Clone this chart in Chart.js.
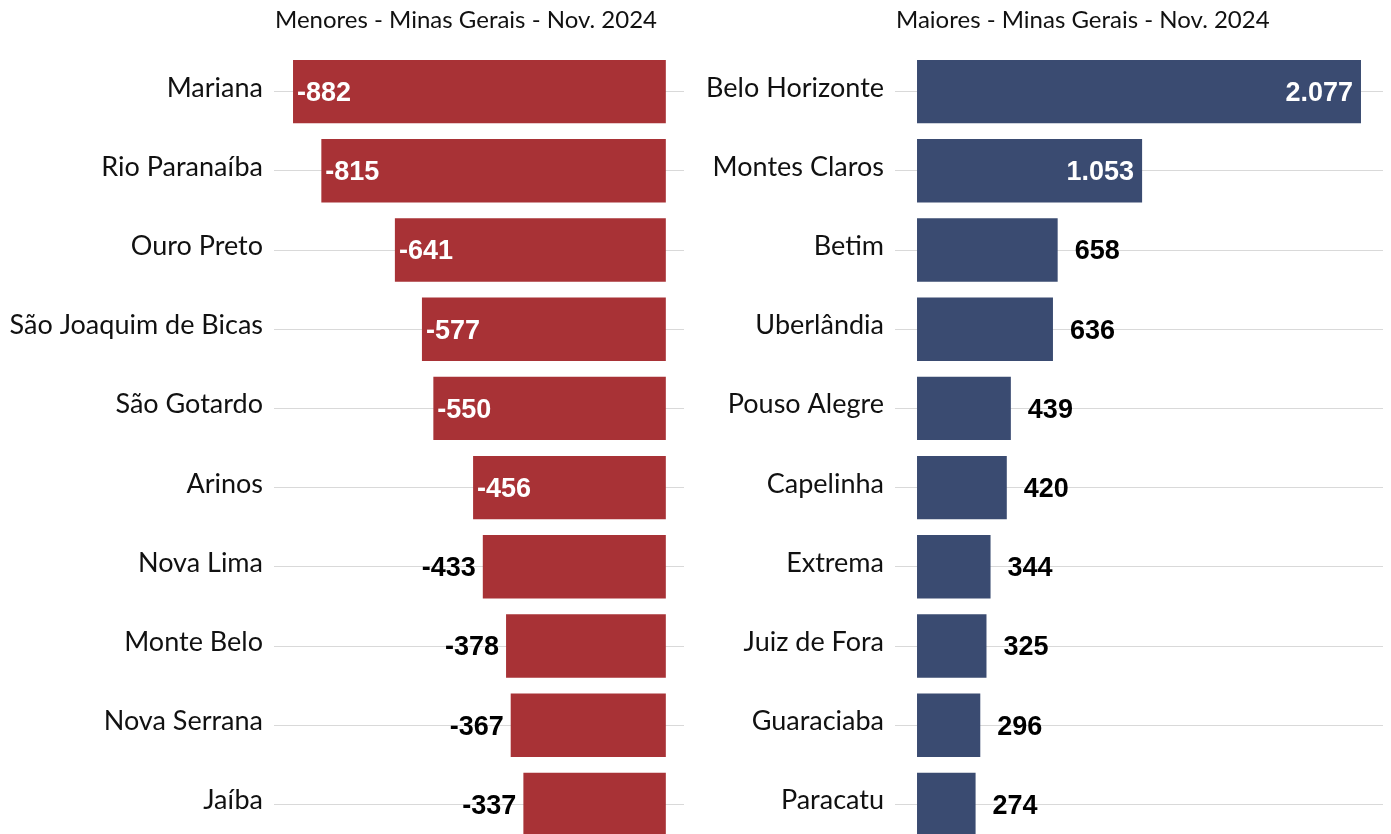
<!DOCTYPE html>
<html>
<head>
<meta charset="utf-8">
<script src="https://cdn.jsdelivr.net/npm/chart.js@4.4.1/dist/chart.umd.min.js"></script>
<style>
  html, body { margin: 0; padding: 0; background: #ffffff; overflow: hidden; width: 1391px; height: 834px; }
  #wrap { position: relative; width: 1391px; height: 834px; overflow: hidden; }
  #left { position: absolute; left: 0; top: 0; width: 695px; height: 850px; }
  #right { position: absolute; left: 695px; top: 0; width: 696px; height: 850px; }
</style>
</head>
<body>
<div id="wrap">
  <div id="left"><canvas id="c1"></canvas></div>
  <div id="right"><canvas id="c2"></canvas></div>
</div>
<script>
const titleLeft = "Menores - Minas Gerais - Nov. 2024";
const titleRight = "Maiores - Minas Gerais - Nov. 2024";

const citiesLeft = ["Mariana", "Rio Paranaíba", "Ouro Preto", "São Joaquim de Bicas", "São Gotardo", "Arinos", "Nova Lima", "Monte Belo", "Nova Serrana", "Jaíba"];
const valuesLeft = [-882, -815, -641, -577, -550, -456, -433, -378, -367, -337];

const citiesRight = ["Belo Horizonte", "Montes Claros", "Betim", "Uberlândia", "Pouso Alegre", "Capelinha", "Extrema", "Juiz de Fora", "Guaraciaba", "Paracatu"];
const valuesRight = [2077, 1053, 658, 636, 439, 420, 344, 325, 296, 274];

const RED = "#A83236";
const BLUE = "#3A4B71";
const LABEL_FONT = "Lato, 'Open Sans', sans-serif";
const VALUE_FONT = "'Liberation Sans', Arial, sans-serif";

function fmt(v) {
  const s = String(Math.abs(v)).replace(/\B(?=(\d{3})+(?!\d))/g, ".");
  return (v < 0 ? "-" : "") + s;
}

const titlePlugin = {
  id: "topTitle",
  afterDraw(chart, args, opts) {
    const ctx = chart.ctx;
    ctx.save();
    ctx.font = "24px " + LABEL_FONT;
    ctx.fillStyle = "#111111";
    ctx.textAlign = "left";
    ctx.textBaseline = "alphabetic";
    ctx.fillText(opts.text, chart.chartArea.left + 1, 28);
    ctx.restore();
  }
};

const categoryLabelPlugin = {
  id: "catLabels",
  afterDraw(chart) {
    const ctx = chart.ctx;
    const yScale = chart.scales.y;
    ctx.save();
    ctx.font = "27px " + LABEL_FONT;
    ctx.fillStyle = "#111111";
    ctx.textAlign = "right";
    ctx.textBaseline = "alphabetic";
    chart.data.labels.forEach((lab, i) => {
      const y = yScale.getPixelForValue(i);
      ctx.fillText(lab, chart.chartArea.left - 11, y + 5);
    });
    ctx.restore();
  }
};

const valuePlugin = {
  id: "valueLabels",
  afterDatasetsDraw(chart) {
    const ctx = chart.ctx;
    const meta = chart.getDatasetMeta(0);
    const data = chart.data.datasets[0].data;
    ctx.save();
    ctx.font = "bold 27px " + VALUE_FONT;
    ctx.textBaseline = "middle";
    meta.data.forEach((bar, i) => {
      const v = data[i];
      const w = Math.abs(bar.x - bar.base);
      const inside = w > 190;
      const y = bar.y + 2;
      if (v < 0) {
        if (inside) { ctx.fillStyle = "#ffffff"; ctx.textAlign = "left"; ctx.fillText(fmt(v), bar.x + 4, y); }
        else { ctx.fillStyle = "#000000"; ctx.textAlign = "right"; ctx.fillText(fmt(v), bar.x - 7, y); }
      } else {
        if (inside) { ctx.fillStyle = "#ffffff"; ctx.textAlign = "right"; ctx.fillText(fmt(v), bar.x - 8, y); }
        else { ctx.fillStyle = "#000000"; ctx.textAlign = "left"; ctx.fillText(fmt(v), bar.x + 17, y); }
      }
    });
    ctx.restore();
  }
};

function makeChart(id, labels, values, color, xmin, xmax, axisWidth, padRight, title) {
  return new Chart(document.getElementById(id), {
    type: "bar",
    data: {
      labels: labels,
      datasets: [{
        data: values,
        backgroundColor: color,
        borderWidth: 0,
        categoryPercentage: 0.8,
        barPercentage: 1.0
      }]
    },
    options: {
      indexAxis: "y",
      responsive: true,
      maintainAspectRatio: false,
      animation: false,
      layout: { padding: { top: 52, bottom: 6, left: 0, right: padRight } },
      plugins: {
        legend: { display: false },
        tooltip: { enabled: false },
        topTitle: { text: title }
      },
      scales: {
        x: { display: false, min: xmin, max: xmax },
        y: {
          afterFit(scale) { scale.width = axisWidth; },
          border: { display: false },
          grid: { display: true, offset: false, drawTicks: false, color: "#d9d9d9", lineWidth: 1 },
          ticks: {
            display: false,
            padding: 11,
            font: { family: LABEL_FONT, size: 27 },
            autoSkip: false
          }
        }
      }
    },
    plugins: [titlePlugin, categoryLabelPlugin, valuePlugin]
  });
}

makeChart("c1", citiesLeft, valuesLeft, RED, -927, 43, 274, 11, titleLeft);
makeChart("c2", citiesRight, valuesRight, BLUE, -103, 2180, 200, 8, titleRight);
</script>
</body>
</html>
